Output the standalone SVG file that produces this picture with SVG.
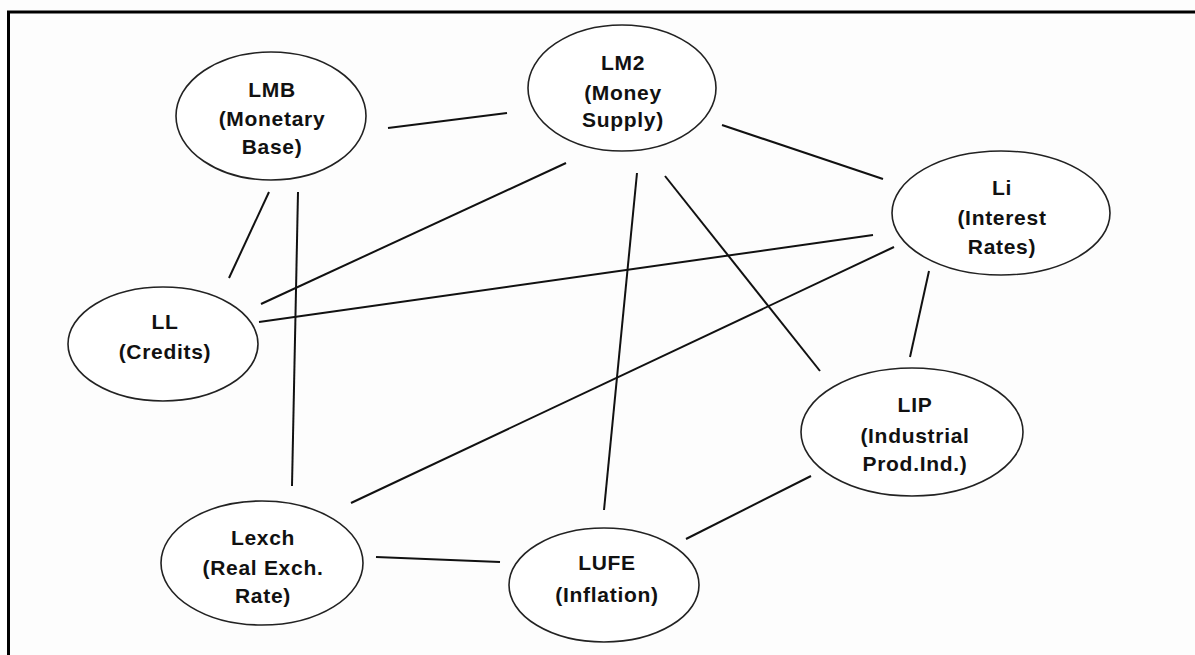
<svg xmlns="http://www.w3.org/2000/svg" width="1195" height="655" viewBox="0 0 1195 655">
<style>
.n ellipse{fill:#ffffff;stroke:#222;stroke-width:1.6}
.n text{font-family:"Liberation Sans",Arial,sans-serif;font-weight:bold;font-size:21px;letter-spacing:0.7px;text-anchor:middle;fill:#111}
#edges line{stroke:#111;stroke-width:2}
</style>
<rect width="1195" height="655" fill="#fdfdfd"/>
<path d="M8.5 655 V12 H1195" fill="none" stroke="#000" stroke-width="3"/>
<g id="edges">
<line x1="388" y1="128" x2="507" y2="113"/>
<line x1="269" y1="192" x2="229" y2="278"/>
<line x1="298" y1="192" x2="292" y2="486"/>
<line x1="566" y1="163" x2="261" y2="304"/>
<line x1="873" y1="235" x2="259" y2="322"/>
<line x1="722" y1="125" x2="883" y2="179"/>
<line x1="637" y1="173" x2="604" y2="510"/>
<line x1="665" y1="176" x2="820" y2="371"/>
<line x1="894" y1="247" x2="351" y2="503"/>
<line x1="929" y1="271" x2="910" y2="357"/>
<line x1="376" y1="557" x2="500" y2="562"/>
<line x1="811" y1="476" x2="686" y2="539"/>
</g>
<g id="LMB" class="n">
<ellipse cx="271" cy="116" rx="95" ry="64"/>
<text x="272" y="97">LMB</text>
<text x="272" y="126">(Monetary</text>
<text x="272" y="154">Base)</text>
</g>
<g id="LM2" class="n">
<ellipse cx="622" cy="88" rx="94" ry="63"/>
<text x="623" y="70">LM2</text>
<text x="623" y="100">(Money</text>
<text x="623" y="127">Supply)</text>
</g>
<g id="Li" class="n">
<ellipse cx="1001" cy="213" rx="109" ry="62"/>
<text x="1002" y="195">Li</text>
<text x="1002" y="225">(Interest</text>
<text x="1002" y="254">Rates)</text>
</g>
<g id="LL" class="n">
<ellipse cx="163" cy="344" rx="95" ry="57"/>
<text x="165" y="329">LL</text>
<text x="165" y="359">(Credits)</text>
</g>
<g id="LIP" class="n">
<ellipse cx="912" cy="432" rx="111" ry="64"/>
<text x="915" y="412">LIP</text>
<text x="915" y="443">(Industrial</text>
<text x="915" y="471">Prod.Ind.)</text>
</g>
<g id="Lexch" class="n">
<ellipse cx="262" cy="563" rx="101" ry="62"/>
<text x="263" y="545">Lexch</text>
<text x="263" y="575">(Real Exch.</text>
<text x="263" y="603">Rate)</text>
</g>
<g id="LUFE" class="n">
<ellipse cx="604" cy="585" rx="95" ry="57"/>
<text x="607" y="570">LUFE</text>
<text x="607" y="602">(Inflation)</text>
</g>
</svg>
